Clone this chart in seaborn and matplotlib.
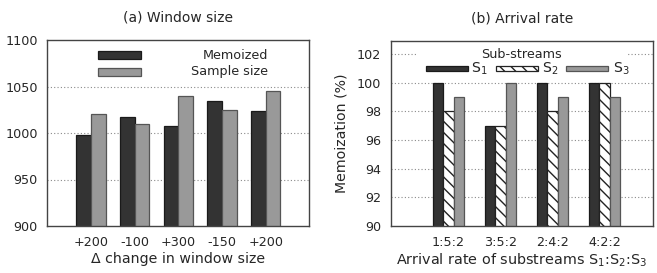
import numpy as np
import pandas as pd
import matplotlib
matplotlib.use("Agg")
import matplotlib.pyplot as plt
import seaborn as sns
from matplotlib.patches import Rectangle

# ---- data ----
win_labels = ["+200", "-100", "+300", "-150", "+200"]
memoized = [998, 1017, 1007, 1034, 1024]
sample_size = [1020, 1010, 1040, 1025, 1045]

rate_labels = ["1:5:2", "3:5:2", "2:4:2", "4:2:2"]
s1 = [100, 97, 100, 100]
s2 = [98, 97, 98, 100]
s3 = [99, 100, 99, 99]

sns.set_theme(style="white")
plt.rcParams['font.family'] = ['DejaVu Sans']
plt.rcParams['hatch.linewidth'] = 1.0
plt.rcParams['hatch.color'] = '#111111'

W, H = 657, 273
fig = plt.figure(figsize=(W / 100, H / 100), dpi=100)

def axrect(l, r, t, b):
    return [l / W, 1 - b / H, (r - l) / W, (b - t) / H]

ax1 = fig.add_axes(axrect(47.3, 309.3, 40, 226))
ax2 = fig.add_axes(axrect(391, 652.7, 40.7, 226))

DARK = "#333333"
GRAY = "#999999"
TXT = "#262626"
GRID = dict(color="#8a8a8a", linestyle=(0, (1, 2)), linewidth=0.8)

# ---- left panel ----
df1 = pd.DataFrame({
    "grp": [f"g{i}" for i in range(5)] * 2,
    "val": memoized + sample_size,
    "series": ["Memoized"] * 5 + ["Sample size"] * 5,
})
sns.barplot(data=df1, x="grp", y="val", hue="series", ax=ax1,
            palette=[DARK, GRAY], width=0.672, gap=0, legend=False,
            saturation=1, zorder=3)
for c, ec in zip(ax1.containers, ["#1a1a1a", "#555555"]):
    for p in c:
        p.set_edgecolor(ec)
        p.set_linewidth(0.9)
ax1.set_xlim(-1, 5)
ax1.set_ylim(900, 1100)
ax1.set_yticks([900, 950, 1000, 1050, 1100])
ax1.set_xticks(range(5))
ax1.set_xticklabels(win_labels)
ax1.set_xlabel("Δ change in window size", fontsize=10.2, labelpad=2, color=TXT)
ax1.set_ylabel("")
ax1.set_title("(a) Window size", fontsize=10, pad=13, color=TXT)
for y in [950, 1000, 1050]:
    ax1.axhline(y, zorder=1, **GRID)

# legend (a)
ax1.add_patch(Rectangle((0.1935, 0.896), 0.164, 0.046, transform=ax1.transAxes,
                        facecolor=DARK, edgecolor="#1a1a1a", lw=0.9, zorder=5, clip_on=False))
ax1.add_patch(Rectangle((0.1935, 0.808), 0.164, 0.043, transform=ax1.transAxes,
                        facecolor=GRAY, edgecolor="#555555", lw=0.9, zorder=5, clip_on=False))
ax1.text(0.842, 0.919, "Memoized", transform=ax1.transAxes, ha="right", va="center",
         fontsize=9.2, color=TXT, zorder=6)
ax1.text(0.842, 0.828, "Sample size", transform=ax1.transAxes, ha="right", va="center",
         fontsize=9.2, color=TXT, zorder=6)

# ---- right panel ----
df2 = pd.DataFrame({
    "grp": rate_labels * 3,
    "val": s1 + s2 + s3,
    "series": ["S1"] * 4 + ["S2"] * 4 + ["S3"] * 4,
})
sns.barplot(data=df2, x="grp", y="val", hue="series", ax=ax2,
            palette=[DARK, "white", GRAY], width=0.6, gap=0, legend=False,
            saturation=1, zorder=3)
for c, ec, hatch in zip(ax2.containers, ["#1a1a1a", "#222222", "#555555"], [None, "\\\\\\", None]):
    for p in c:
        p.set_edgecolor(ec)
        p.set_linewidth(0.9)
        if hatch:
            p.set_hatch(hatch)
ax2.set_xlim(-1.106, 3.93)
ax2.set_ylim(90, 102.93)
ax2.set_yticks([90, 92, 94, 96, 98, 100, 102])
ax2.set_xticks(range(4))
ax2.set_xticklabels(rate_labels)
ax2.set_xlabel("Arrival rate of substreams S$_1$:S$_2$:S$_3$", fontsize=10.4, labelpad=2, color=TXT)
ax2.set_ylabel("Memoization (%)", fontsize=10.2, labelpad=6, color=TXT)
ax2.set_title("(b) Arrival rate", fontsize=10, pad=13, color=TXT)
for y in [92, 94, 96, 98, 100, 102]:
    ax2.axhline(y, zorder=1, **GRID)

# legend (b)
ax2.add_patch(Rectangle((0.0994, 0.81), 0.80, 0.16, transform=ax2.transAxes,
                        facecolor="white", edgecolor="none", zorder=4))
ax2.text(0.5, 0.923, "Sub-streams", transform=ax2.transAxes, ha="center", va="center",
         fontsize=9.2, color=TXT, zorder=6)
hx = [0.1326, 0.400, 0.6676]
fills = [DARK, "white", GRAY]
edges = ["#1a1a1a", "#222222", "#555555"]
hatches = [None, "\\\\\\", None]
lx = [0.306, 0.577, 0.848]
labs = ["S$_1$", "S$_2$", "S$_3$"]
for x0, fc, ec, hh, tx, lb in zip(hx, fills, edges, hatches, lx, labs):
    ax2.add_patch(Rectangle((x0, 0.838), 0.161, 0.026, transform=ax2.transAxes,
                            facecolor=fc, edgecolor=ec, lw=0.9, hatch=hh, zorder=5))
    ax2.text(tx, 0.848, lb, transform=ax2.transAxes, ha="left", va="center",
             fontsize=10.2, color=TXT, zorder=6)

for ax in (ax1, ax2):
    ax.tick_params(axis="both", length=0, labelsize=9.2, colors=TXT)
    ax.tick_params(axis="y", pad=7)
    ax.tick_params(axis="x", pad=7)
    for s in ax.spines.values():
        s.set_color("#444444")
        s.set_linewidth(1.0)
        s.set_visible(True)
        s.set_zorder(7)

fig.savefig("out.png", dpi=100)
